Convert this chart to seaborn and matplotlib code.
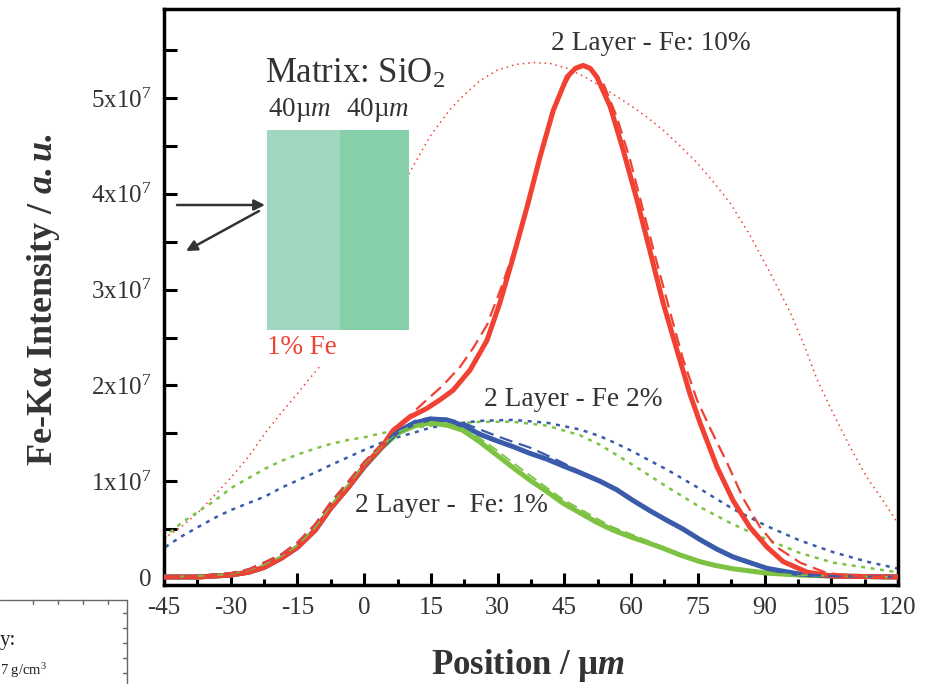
import matplotlib
matplotlib.use("Agg")
import matplotlib.pyplot as plt
import seaborn as sns
import numpy as np
import pandas as pd
from matplotlib.patches import Rectangle
from matplotlib.lines import Line2D
from matplotlib.ticker import MultipleLocator, FixedLocator

# ---------------- data (x in µm, y in 1e7 a.u.) ----------------
x_ticks = [-45, -30, -15, 0, 15, 30, 45, 60, 75, 90, 105, 120]
y_ticks = [0, 1, 2, 3, 4, 5]
y_tick_labels = ["0", "1x10$^7$", "2x10$^7$", "3x10$^7$", "4x10$^7$", "5x10$^7$"]

# solid measured curves
green_x = [-45, -37.5, -30, -26, -22.5, -18.5, -15, -11, -7.5, -3.5, 0, 4, 7.5, 11.5, 15, 19,
           22.2, 26.0, 29.9, 33.5, 37.3, 41.1, 44.7, 48.5, 52.3, 55.9, 59.8, 63.6, 67.2, 71.0,
           75.5, 79, 83, 90.6, 98, 105, 120]
green_y = [0, 0, 0.02, 0.05, 0.10, 0.20, 0.31, 0.49, 0.72, 0.94, 1.15, 1.35, 1.50, 1.58, 1.61, 1.58,
           1.53, 1.41, 1.27, 1.14, 1.01, 0.89, 0.77, 0.67, 0.57, 0.49, 0.42, 0.36, 0.30, 0.23,
           0.16, 0.12, 0.085, 0.04, 0.02, 0.01, 0]

blue_x = [-45, -37.5, -30, -26, -22.5, -18.5, -15, -11, -7.5, -3.5, 0, 4, 7.5, 11.5, 14.8, 18.6,
          22.2, 26.0, 29.9, 33.5, 37.3, 41.1, 44.7, 48.5, 53.0, 56.8, 60.4, 64.3, 68.1, 71.7,
          75.5, 79.3, 82.9, 86.7, 90.6, 94.2, 98.0, 105.4, 120]
blue_y = [0, 0, 0.02, 0.05, 0.10, 0.20, 0.31, 0.49, 0.72, 0.94, 1.15, 1.36, 1.52, 1.61, 1.65, 1.64,
          1.58, 1.49, 1.42, 1.36, 1.29, 1.23, 1.16, 1.09, 1.00, 0.91, 0.80, 0.69, 0.59, 0.50,
          0.39, 0.29, 0.21, 0.15, 0.09, 0.06, 0.03, 0.01, 0]

red_x = [-45, -37.5, -30, -26, -22.5, -18.5, -15, -11, -7.5, -3.5, 0, 4, 6.5, 10.3, 14.1, 17.05,
         20.0, 23.8, 27.6, 30.5, 33.5, 36.6, 39.5, 42.5, 45.6, 47.5, 49.2, 50.8, 52.3, 55.3, 58.2,
         61.3, 64.2, 67.2, 70.3, 73.3, 75.5, 79.3, 82.9, 86.7, 90.6, 94.2, 99.6, 105.4, 120]
red_y = [0, 0, 0.02, 0.05, 0.10, 0.20, 0.31, 0.49, 0.72, 0.94, 1.16, 1.36, 1.53, 1.67, 1.76, 1.85,
         1.95, 2.16, 2.47, 2.86, 3.34, 3.86, 4.38, 4.87, 5.22, 5.31, 5.34, 5.31, 5.22, 4.91, 4.46,
         3.94, 3.41, 2.86, 2.37, 1.90, 1.61, 1.15, 0.80, 0.52, 0.31, 0.16, 0.05, 0.01, 0]

# dashed simulated curves
red_dash_x = [-45, -37.5, -30, -26, -22.5, -18.5, -15, -11, -7.5, -3.5, 0, 4, 6.9, 10.3, 14.1,
              17.7, 21.5, 24.5, 27.6, 31.2, 35.0, 38.0, 41.1, 44.0, 47.0, 50.1, 53.7, 56.8,
              59.8, 62.7, 65.8, 68.8, 71.7, 74.8, 77.8, 81.6, 85.2, 89.0, 92.8, 98.0, 104.1,
              113.0, 120]
red_dash_y = [0, 0.01, 0.04, 0.08, 0.15, 0.24, 0.36, 0.55, 0.78, 1.00, 1.20, 1.39, 1.56, 1.69, 1.85,
              2.00, 2.19, 2.39, 2.63, 3.07, 3.59, 4.11, 4.63, 5.05, 5.29, 5.34, 5.16, 4.80,
              4.35, 3.83, 3.28, 2.76, 2.27, 1.85, 1.55, 1.19, 0.82, 0.52, 0.31, 0.15, 0.04,
              0.0, 0]

blue_dash_x = [-45, -37.5, -30, -26, -22.5, -18.5, -15, -11, -7.5, -3.5, 0, 4, 7.6, 11.4, 14.8,
               18.6, 22.2, 26.0, 29.9, 33.5, 37.3, 41.1, 44.7, 48.5, 53.0, 56.8, 60.4, 64.3,
               68.1, 71.7, 75.5, 79.3, 82.9, 86.7, 90.6, 94.2, 98.0, 105.4, 120]
blue_dash_y = [0, 0.01, 0.04, 0.08, 0.15, 0.24, 0.36, 0.55, 0.78, 1.00, 1.20, 1.39, 1.53, 1.63, 1.66,
               1.65, 1.61, 1.54, 1.47, 1.41, 1.35, 1.27, 1.19, 1.10, 1.00, 0.91, 0.80, 0.69,
               0.59, 0.50, 0.39, 0.29, 0.21, 0.15, 0.09, 0.06, 0.03, 0.01, 0]

green_dash_x = [-45, -37.5, -30, -26, -22.5, -18.5, -15, -11, -7.5, -3.5, 0, 4, 7.5, 11.5, 15, 19,
                22.2, 26.0, 29.9, 33.5, 37.3, 41.1, 44.7, 48.5, 52.3, 55.9, 59.8, 63.6, 67.2,
                71.0, 75.5, 79, 83, 90.6, 98, 105, 120]
green_dash_y = [0, 0.01, 0.03, 0.07, 0.13, 0.22, 0.33, 0.52, 0.75, 0.97, 1.18, 1.37, 1.51, 1.59, 1.62,
                1.60, 1.55, 1.45, 1.32, 1.19, 1.06, 0.93, 0.81, 0.71, 0.61, 0.52, 0.45, 0.38,
                0.31, 0.24, 0.17, 0.13, 0.09, 0.04, 0.02, 0.01, 0]

# dotted curves
blue_dot_x = [-48.6, -44.8, -41.2, -37.4, -33.5, -29.9, -26.1, -22.3, -18.7, -14.9, -11.05, -7.45,
              -3.63, 0.19, 3.79, 7.6, 11.4, 15.0, 18.85, 26.0, 33.5, 41.1, 48.5, 53.0, 55.9,
              60.4, 63.6, 68.1, 75.5, 82.9, 90.6, 98.0, 105.4, 113.0, 119.8]
blue_dot_y = [0.23, 0.31, 0.42, 0.52, 0.62, 0.70, 0.77, 0.84, 0.93, 1.01, 1.09, 1.17,
              1.25, 1.33, 1.40, 1.46, 1.51, 1.56, 1.59, 1.63, 1.64, 1.61, 1.54, 1.47, 1.41,
              1.31, 1.23, 1.12, 0.92, 0.71, 0.53, 0.38, 0.26, 0.16, 0.09]

green_dot_x = [-48.6, -44.8, -41.2, -37.4, -33.5, -29.9, -26.1, -22.3, -18.7, -14.9, -11.05, -7.45,
               -3.63, 0.19, 3.79, 7.6, 11.4, 15.0, 18.85, 26.0, 33.5, 41.1, 48.5, 53.0, 60.4,
               68.1, 75.5, 82.9, 90.6, 98.0, 105.4, 119.8]
green_dot_y = [0.28, 0.42, 0.56, 0.68, 0.80, 0.93, 1.03, 1.13, 1.21, 1.28, 1.34, 1.39,
               1.43, 1.46, 1.50, 1.53, 1.56, 1.58, 1.60, 1.62, 1.62, 1.58, 1.48, 1.38, 1.17,
               0.94, 0.73, 0.55, 0.39, 0.25, 0.15, 0.05]

red_dot_x = [-48.6, -44.8, -41.2, -37.4, -33.5, -29.9, -26.1, -22.3, -18.7, -14.9, -12.85, -9.93,
             -6.6, -3.2, 1.3, 5.8, 10.3, 14.8, 19.3, 22.2, 26.0, 29.9, 34.0, 38.0, 41.8, 45.6,
             50.0, 54.6, 59.0, 63.6, 67.3, 71.0, 74.7, 78.4, 82.3, 86.7, 91.2, 95.7, 99.1,
             101.8, 105.4, 109.2, 113.0, 116.6, 119.8]
red_dot_y = [0.35, 0.41, 0.52, 0.67, 0.86, 1.04, 1.25, 1.50, 1.71, 1.92, 2.04, 2.20,
             2.49, 2.89, 3.36, 3.81, 4.23, 4.60, 4.88, 5.02, 5.18, 5.29, 5.35, 5.37, 5.36, 5.31,
             5.21, 5.08, 4.95, 4.80, 4.66, 4.50, 4.33, 4.13, 3.90, 3.57, 3.18, 2.77, 2.40,
             2.06, 1.71, 1.36, 1.04, 0.80, 0.57]

SCALE = 1e7

# ---------------- style ----------------
sns.set_style("ticks")
plt.rcParams["font.family"] = ["Liberation Serif", "DejaVu Serif"]
plt.rcParams["mathtext.fontset"] = "custom"
plt.rcParams["mathtext.rm"] = "Liberation Serif"
plt.rcParams["mathtext.it"] = "Liberation Serif:italic"
plt.rcParams["mathtext.bf"] = "Liberation Serif:bold"
plt.rcParams["mathtext.bfit"] = "Liberation Serif:bold:italic"

RED = "#F04132"
BLUE = "#3A5BAA"
GREEN = "#7DC242"
TXT = "#333333"

W, H = 933, 684
fig = plt.figure(figsize=(W / 100, H / 100), dpi=100)
ax = fig.add_axes([164 / W, 1 - 585 / H, (898 - 164) / W, (585 - 9) / H])


def fx(px):
    return px / W


def fy(py):
    return 1 - py / H


def draw(xs, ys, color, lw, ls, z):
    df = pd.DataFrame({"x": xs, "y": np.array(ys) * SCALE})
    sns.lineplot(data=df, x="x", y="y", ax=ax, color=color, linewidth=lw,
                 linestyle=ls, zorder=z, sort=False, estimator=None,
                 solid_joinstyle="round", dash_joinstyle="round")


# dotted
draw(red_dot_x, red_dot_y, RED, 1.1, (0, (1, 2.6)), 2)
draw(green_dot_x, green_dot_y, GREEN, 1.8, (0, (1.6, 2.2)), 2)
draw(blue_dot_x, blue_dot_y, BLUE, 1.8, (0, (1.6, 2.2)), 2)
# solid
draw(green_x, green_y, GREEN, 3.6, "-", 3)
draw(blue_x, blue_y, BLUE, 3.6, "-", 3)
draw(red_x, red_y, RED, 3.6, "-", 4)
# dashed
draw(green_dash_x, green_dash_y, GREEN, 1.3, (0, (6, 3)), 5)
draw(blue_dash_x, blue_dash_y, BLUE, 1.6, (0, (6, 3)), 5)
draw(red_dash_x, red_dash_y, RED, 1.6, (0, (6, 3)), 5)

ax.set_xlim(-45, 120)
ax.set_ylim(-8 / 95.8 * SCALE, 568 / 95.8 * SCALE)
ax.set_xticks(x_ticks)
ax.set_xticklabels([str(v) for v in x_ticks])
ax.xaxis.set_minor_locator(MultipleLocator(7.5))
ax.set_yticks([v * SCALE for v in y_ticks])
ax.set_yticklabels(y_tick_labels)
ax.yaxis.set_minor_locator(FixedLocator([v * SCALE for v in np.arange(0.5, 6.0, 1.0)]))
ax.tick_params(axis="both", which="both", direction="in", width=2.2, colors="black",
               labelcolor=TXT, labelsize=18)
ax.tick_params(axis="x", which="major", length=9, pad=9)
ax.tick_params(axis="x", which="minor", length=4.5)
ax.tick_params(axis="y", which="both", length=9, pad=9)
for s in ax.spines.values():
    s.set_linewidth(2.5)
    s.set_color("black")
ax.set_xlabel("")
ax.set_ylabel("")

# axis labels
fig.text(fx(528), fy(665), r"Position / µ$\mathbfit{m}$", fontsize=25, fontweight="bold",
         color=TXT, ha="center", va="center")
fig.text(fx(44), fy(300), r"Fe-Kα Intensity / $\mathbfit{a.u.}$", fontsize=26,
         fontweight="bold", color=TXT, ha="center", va="center", rotation=90)

# inset schematic
ax.add_patch(Rectangle((fx(267), fy(330)), fx(340) - fx(267), fy(130) - fy(330),
                       transform=fig.transFigure, facecolor="#A1D7BF", edgecolor="none",
                       zorder=10, clip_on=False))
ax.add_patch(Rectangle((fx(340), fy(330)), fx(409) - fx(340), fy(130) - fy(330),
                       transform=fig.transFigure, facecolor="#87CFA9", edgecolor="none",
                       zorder=10, clip_on=False))
ax.text(fx(265), fy(74), r"Matrix: SiO$_2$", transform=fig.transFigure, fontsize=25,
        color=TXT, ha="left", va="center", zorder=11)
ax.text(fx(300), fy(110), r"40µ$\mathit{m}$", transform=fig.transFigure, fontsize=19.5,
        color=TXT, ha="center", va="center", zorder=11)
ax.text(fx(378), fy(110), r"40µ$\mathit{m}$", transform=fig.transFigure, fontsize=19.5,
        color=TXT, ha="center", va="center", zorder=11)
ax.text(fx(267), fy(348), "1% Fe", transform=fig.transFigure, fontsize=19.5, color=RED,
        ha="left", va="center", zorder=11,
        bbox=dict(facecolor="white", edgecolor="none", pad=4))
ax.annotate("", xy=(fx(265), fy(205)), xytext=(fx(177), fy(205)), xycoords="figure fraction",
            textcoords="figure fraction",
            arrowprops=dict(arrowstyle="-|>", color=TXT, lw=1.8, mutation_scale=16,
                            shrinkA=0, shrinkB=0), zorder=11)
ax.annotate("", xy=(fx(186), fy(251)), xytext=(fx(259), fy(211)), xycoords="figure fraction",
            textcoords="figure fraction",
            arrowprops=dict(arrowstyle="-|>", color=TXT, lw=1.8, mutation_scale=16,
                            shrinkA=0, shrinkB=0), zorder=11)

# curve annotations
ax.text(fx(651), fy(44), "2 Layer - Fe: 10%", transform=fig.transFigure, fontsize=19.7,
        color=TXT, ha="center", va="center", zorder=11)
ax.text(fx(573), fy(400), "2 Layer - Fe 2%", transform=fig.transFigure, fontsize=19.7,
        color=TXT, ha="center", va="center", zorder=11)
ax.text(fx(451), fy(505), "2 Layer -  Fe: 1%", transform=fig.transFigure, fontsize=19.7,
        color=TXT, ha="center", va="center", zorder=11)

# fragment of neighbouring panel (bottom-left corner)
fig.add_artist(Line2D([0, fx(127)], [fy(600), fy(600)], transform=fig.transFigure,
                      color="#666666", lw=1.0))
fig.add_artist(Line2D([fx(127), fx(127)], [fy(600), 0], transform=fig.transFigure,
                      color="#666666", lw=1.0))
for tx in [33, 58, 83, 108]:
    fig.add_artist(Line2D([fx(tx), fx(tx)], [fy(600), fy(604)], transform=fig.transFigure,
                          color="#666666", lw=1.0))
for ty in [613, 628, 643, 658, 673]:
    fig.add_artist(Line2D([fx(123), fx(127)], [fy(ty), fy(ty)], transform=fig.transFigure,
                          color="#666666", lw=1.0))
fig.text(fx(0), fy(641), "y:", fontsize=15, color="#222222", ha="left", va="center")
fig.text(fx(0), fy(671), "7 g/cm$^3$", fontsize=10.5, color="#222222", ha="left", va="center")

fig.savefig("out.png", dpi=100)
